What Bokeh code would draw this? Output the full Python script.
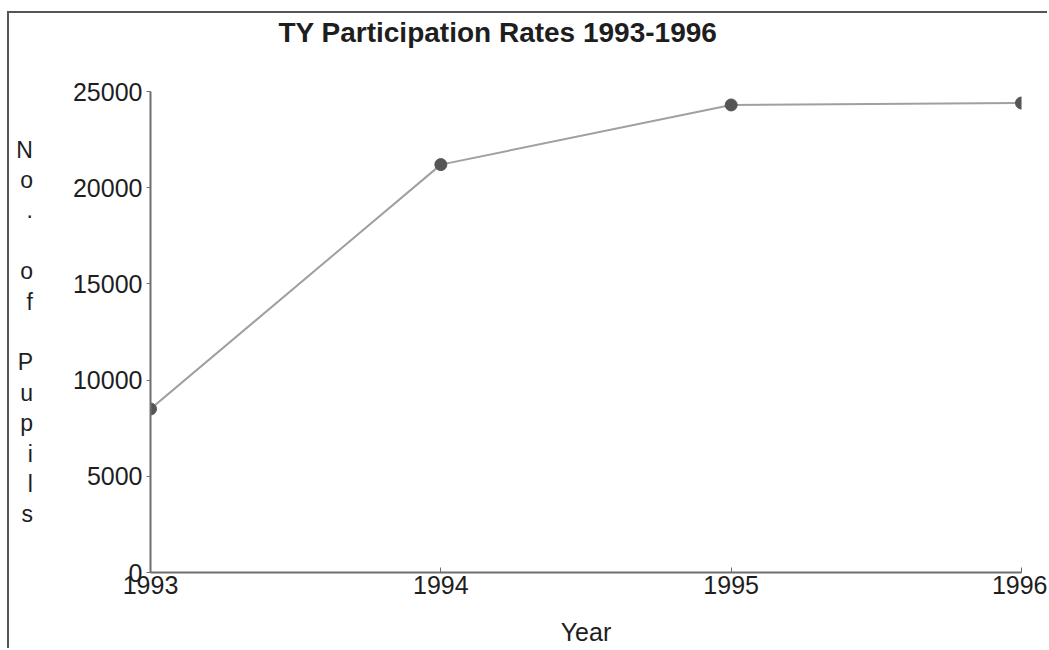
from bokeh.plotting import figure
from bokeh.models import FixedTicker, Title
from bokeh.embed import file_html
from bokeh.resources import INLINE

years = [1993, 1994, 1995, 1996]
pupils = [8500, 21200, 24300, 24400]
y_ticks = [0, 5000, 10000, 15000, 20000, 25000]
title_text = "TY Participation Rates 1993-1996"
x_label = "Year"
y_label_letters = ["N", "o", ".", " ", "o", "f", " ", "P", "u", "p", "i", "l", "s"]

FONT = "Liberation Sans"
TXT = "#1e1e1e"
AX = "#6e6e6e"

p = figure(width=1040, height=637, output_backend="svg", toolbar_location=None,
           x_range=(1993, 1996), y_range=(0, 25000),
           min_border_left=141, min_border_right=28, min_border_top=78, min_border_bottom=78,
           title=title_text)
p.margin = (11, 0, 0, 7)
p.styles = {"border-left": "2px solid #555555", "border-top": "2px solid #555555"}

# spacer between title and plot area
p.add_layout(Title(text=" ", text_font_size="1px", standoff=41), "above")

p.title.text_font = FONT
p.title.text_font_size = "28px"
p.title.text_font_style = "bold"
p.title.text_color = TXT
p.title.align = "left"
p.title.offset = 128
p.title.standoff = 0
p.title.text_line_height = 1.0

p.line(years, pupils, line_color="#a0a0a0", line_width=2)
p.scatter(years, pupils, size=12, fill_color="#555555", line_color="#555555")

p.xgrid.visible = False
p.ygrid.visible = False
p.outline_line_color = None
p.background_fill_color = "white"
p.border_fill_color = "white"

for ax in (p.xaxis[0], p.yaxis[0]):
    ax.axis_line_color = AX
    ax.axis_line_width = 2
    ax.major_tick_line_color = AX
    ax.major_tick_line_width = 1
    ax.minor_tick_line_color = None
    ax.major_label_text_font = FONT
    ax.major_label_text_font_size = "25px"
    ax.major_label_text_color = TXT

p.xaxis.ticker = FixedTicker(ticks=years)
p.xaxis.major_tick_in = 5
p.xaxis.major_tick_out = 0
p.xaxis.major_label_standoff = 3
p.xaxis.axis_label = x_label
p.xaxis.axis_label_text_font = FONT
p.xaxis.axis_label_text_font_size = "25px"
p.xaxis.axis_label_text_font_style = "normal"
p.xaxis.axis_label_text_color = TXT
p.xaxis.axis_label_standoff = 21

p.yaxis.ticker = FixedTicker(ticks=y_ticks)
p.yaxis.major_tick_in = 0
p.yaxis.major_tick_out = 4
p.yaxis.major_label_standoff = 4
p.yaxis.axis_label = "\n".join(y_label_letters)
p.yaxis.axis_label_orientation = "horizontal"
p.yaxis.axis_label_text_font = FONT
p.yaxis.axis_label_text_font_size = "23px"
p.yaxis.axis_label_text_font_style = "normal"
p.yaxis.axis_label_text_color = TXT
p.yaxis.axis_label_text_align = "center"
p.yaxis.axis_label_text_line_height = 1.169
p.yaxis.axis_label_standoff = 37

open("out.html", "w").write(file_html(p, INLINE))
